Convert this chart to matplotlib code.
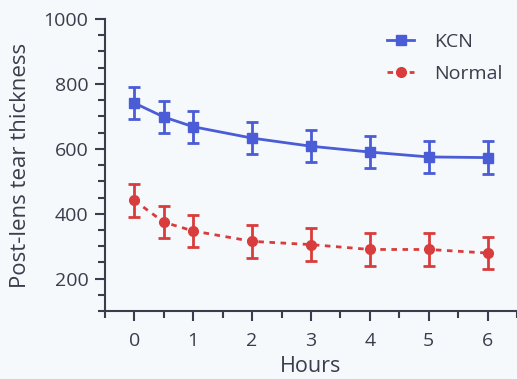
import matplotlib
matplotlib.use('Agg')
import matplotlib.pyplot as plt
from matplotlib.ticker import MultipleLocator
from matplotlib.lines import Line2D

# data
hours = [0, 0.5, 1, 2, 3, 4, 5, 6]
kcn = [741, 698, 668, 633, 608, 590, 575, 573]
kcn_err = [50, 50, 50, 50, 50, 50, 50, 50]
normal = [441, 374, 347, 315, 305, 290, 290, 279]
normal_err = [50, 50, 50, 50, 50, 50, 50, 50]

plt.rcParams['font.family'] = ['Open Sans', 'DejaVu Sans']
txt = '#393d4c'
bg = '#f5f9fc'
blue = '#4a5cd6'
red = '#d93c3c'

fig = plt.figure(figsize=(5.17, 3.79), dpi=100, facecolor=bg)
ax = fig.add_axes([0.203, 0.179, 0.797, 0.771], facecolor=bg)

ax.errorbar(hours, kcn, yerr=kcn_err, color=blue, marker='s', ms=7,
            lw=2, elinewidth=2, capsize=4, capthick=2)
ax.errorbar(hours, normal, yerr=normal_err, color=red, marker='o', ms=7,
            lw=2, ls=(0, (2, 2)), elinewidth=2, capsize=4, capthick=2)

ax.set_xlim(-0.5, 6.5)
ax.set_ylim(100, 1000)
ax.xaxis.set_major_locator(MultipleLocator(1))
ax.xaxis.set_minor_locator(MultipleLocator(0.5))
ax.yaxis.set_minor_locator(MultipleLocator(50))
ax.set_yticks([200, 400, 600, 800, 1000])

for s in ['top', 'right']:
    ax.spines[s].set_visible(False)
for s in ['left', 'bottom']:
    ax.spines[s].set_color(txt)
    ax.spines[s].set_linewidth(1.5)
ax.tick_params(which='major', length=7, width=1.5, color=txt, labelcolor=txt,
               labelsize=14, pad=5)
ax.tick_params(axis='x', which='major', pad=8)
ax.tick_params(which='minor', length=5, width=1.5, color=txt)

ax.set_xlabel('Hours', fontsize=15.5, color=txt, labelpad=4)
ax.set_ylabel('Post-lens tear thickness', fontsize=16, color=txt, labelpad=9)

handles = [Line2D([], [], color=blue, marker='s', ms=7, lw=2),
           Line2D([], [], color=red, marker='o', ms=7, lw=2, ls=(0, (2, 2)))]
fig.legend(handles, ['KCN', 'Normal'], loc='upper left', frameon=False,
           fontsize=14, labelcolor=txt, handlelength=1.4, handletextpad=1.0,
           labelspacing=0.75, bbox_to_anchor=(0.715, 0.96))

fig.savefig('out.png', dpi=100, facecolor=bg)
